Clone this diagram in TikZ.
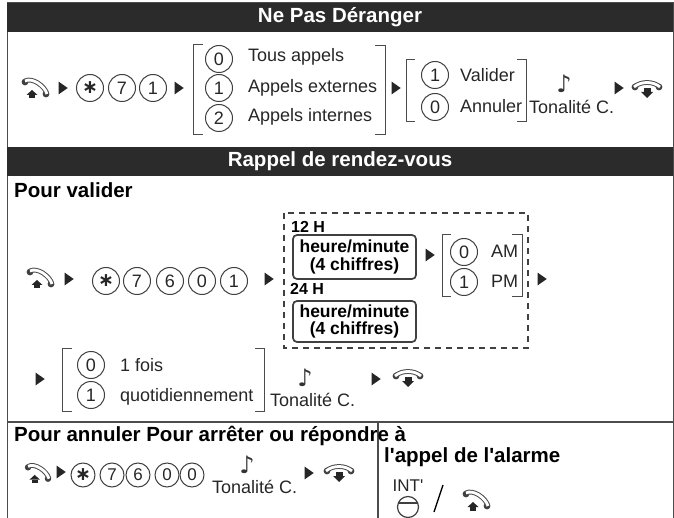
\documentclass[tikz,border=0pt]{standalone}
\usepackage{fontspec}
\setmainfont{Liberation Sans}[Ligatures=TeXOff]
\newfontfamily\symfont{DejaVu Sans}
\usetikzlibrary{positioning,shapes.geometric}

\newcommand{\sz}[1]{\fontsize{#1}{#1}\selectfont}

\tikzset{
  pics/offhook/.style={code={
    \fill[black!75] (-11,-6) circle (3.4);
    \fill[black!75] (10,6) circle (3.4);
    \draw[line width=1pt, double, double distance=2.8pt, black!70] (-11,-7) .. controls (-4,-11) and (9,-2) .. (11,6);
    \fill[black!85] (-4,2) -- (-9.5,7) -- (1.5,7) -- cycle;
    \fill[black!85] (-7,7) rectangle (-1,10.5);
  }},
  pics/onhook/.style={code={
    \fill[black!75] (-12,-2) circle (3.4);
    \fill[black!75] (12,-2) circle (3.4);
    \draw[line width=1pt, double, double distance=2.8pt, black!70] (-13,-2) .. controls (-6,-8) and (6,-8) .. (13,-2);
    \fill[black!85] (-3.5,-1) rectangle (3.5,3);
    \fill[black!85] (-6,3) -- (6,3) -- (0,9) -- cycle;
  }}
}

\begin{document}
\begin{tikzpicture}[
  x=1pt, y=-1pt,
  head/.style={fill=black!83, minimum width=666pt, minimum height=29pt, inner sep=0pt, text=white, font=\sz{20.5}\bfseries},
  key/.style={circle, draw=black!75, line width=1pt, minimum size=27pt, inner sep=0pt, font=\sz{18}, text=black!85},
  keys/.style={key, minimum size=24pt, font=\sz{17}},
  star/.style={font=\sz{19}\symfont\bfseries},
  go/.style={isosceles triangle, isosceles triangle apex angle=70, fill=black!85, inner sep=0pt, minimum height=9pt, minimum width=10pt},
  lbl/.style={anchor=west, inner sep=0pt, font=\sz{18}, text=black!85},
  tit/.style={anchor=west, inner sep=0pt, font=\sz{20.5}\bfseries},
  note/.style={inner sep=0pt, font=\sz{24}\symfont\itshape, text=black!80},
  brk/.style={draw=black!70, line width=1pt},
  hourbox/.style={draw=black!75, line width=1.7pt, rounded corners=4pt, minimum width=123pt, align=center, inner sep=0pt, font=\fontsize{17.5}{17.5}\selectfont\bfseries}
]
\useasboundingbox (0,0) rectangle (674,518);

% Frame
\draw[black!70, line width=1pt] (7,3) rectangle (673,518);

% Top: Ne Pas Deranger
\node[head] (headA) at (340,17.5) {Ne Pas Déranger};
\pic at (36,88) {offhook};
\node[go] (goA) at (62,88) {};
\node[key, star] (aStar) at (90,88) {∗};
\node[key] (aSeven) at (122,88) {7};
\node[key] (aOne) at (153,88) {1};
\node[go] (goB) at (178,88) {};

\draw[brk] (203,45) -- (193,45) -- (193,135) -- (203,135);
\node[key] (aKeyZero) at (219,59) {0};
\node[key] (aKeyOne) at (219,88) {1};
\node[key] (aKeyTwo) at (219,118) {2};
\node[lbl] (tous) at (248,57) {Tous appels};
\node[lbl] (ext) at (248,88) {Appels externes};
\node[lbl] (int) at (248,117) {Appels internes};
\draw[brk] (375,46) -- (385,46) -- (385,135) -- (375,135);

\node[go] (goC) at (395,88) {};
\draw[brk] (415,60) -- (406,60) -- (406,122) -- (415,122);
\node[key] (aVal) at (435,75) {1};
\node[key] (aAnn) at (435,107) {0};
\node[lbl] (valider) at (460,75) {Valider};
\node[lbl] (annuler) at (460,106) {Annuler};
\draw[brk] (517,60) -- (526,60) -- (526,122) -- (517,122);
\node[note] (noteA) at (564,84) {♪};
\node[lbl] (tonA) at (529,107) {Tonalité C.};
\node[go] (goD) at (618,88) {};
\pic at (647,89) {onhook};

% Middle: Rappel de rendez-vous
\node[head] (headB) at (340,161.5) {Rappel de rendez-vous};
\node[tit] (valid) at (14,190) {Pour valider};
\pic at (41,278) {offhook};
\node[go] (goE) at (68,279) {};
\node[key, star] (bStar) at (106,281) {∗};
\node[key] (bSeven) at (137,281) {7};
\node[key] (bSix) at (170,281) {6};
\node[key] (bZero) at (202,281) {0};
\node[key] (bOne) at (234,281) {1};
\node[go] (goF) at (268,279) {};

% Dashed choice of hour format
\draw[black!75, line width=1.3pt, dash pattern=on 6pt off 5pt] (284,213) rectangle (528,348);
\node[anchor=west, inner sep=0pt, font=\sz{16}\bfseries] (twelve) at (291,227) {12 H};
\node[hourbox, minimum height=44pt] (hourA) at (354.5,257) {heure/minute\\(4 chiffres)};
\node[anchor=west, inner sep=0pt, font=\sz{16}\bfseries] (twenty) at (290,289) {24 H};
\node[hourbox, minimum height=41pt] (hourB) at (354.5,321.5) {heure/minute\\(4 chiffres)};
\node[go] (goG) at (429,255) {};
\draw[brk] (451,235) -- (442,235) -- (442,297) -- (451,297);
\node[key] (bAm) at (464,252) {0};
\node[key] (bPm) at (464,282) {1};
\node[lbl] (am) at (491,251) {AM};
\node[lbl] (pm) at (491,281) {PM};
\draw[brk] (512,235) -- (522,235) -- (522,297) -- (512,297);
\node[go] (goH) at (541,279) {};

% Repeat choice
\node[go] (goI) at (39,379) {};
\draw[brk] (72,348) -- (62,348) -- (62,411) -- (72,411);
\node[key] (bOnce) at (91,365) {0};
\node[key] (bDaily) at (91,395) {1};
\node[lbl] (fois) at (120,365) {1 fois};
\node[lbl] (quot) at (120,397) {quotidiennement};
\draw[brk] (255,348) -- (264,348) -- (264,411) -- (255,411);
\node[note] (noteB) at (305,378) {♪};
\node[lbl] (tonB) at (270,400) {Tonalité C.};
\node[go] (goJ) at (375,379) {};
\pic at (408,378) {onhook};

% Bottom: cancel and answer
\draw[black!70, line width=1.2pt] (7,422) -- (673,422);
\draw[black!70, line width=1.2pt] (378,422) -- (378,518);
\node[tit] (annul) at (14,436) {Pour annuler Pour arrêter ou répondre à};
\node[tit] (alarm) at (384,457) {l'appel de l'alarme};
\pic[scale=.95] at (38.5,473) {offhook};
\node[go] (goK) at (60,472) {};
\node[keys, star] (cStar) at (83,475) {∗};
\node[keys] (cSeven) at (112,475) {7};
\node[keys] (cSix) at (138,475) {6};
\node[keys] (cZero) at (167,475) {0};
\node[keys] (cZeroB) at (192,475) {0};
\node[note] (noteC) at (247,465) {♪};
\node[lbl] (tonC) at (212,487) {Tonalité C.};
\node[go] (goL) at (308,473) {};
\pic at (339,473) {onhook};

\node[inner sep=0pt, font=\sz{17}, text=black!85] (intK) at (408,486) {INT'};
\draw[black!75, line width=1.2pt] (408,507) circle (10.5);
\draw[black!75, line width=1.2pt] (398.5,503) -- (417.5,503);
\draw[black, line width=1.4pt] (434,512) -- (443,485);
\pic at (477,500) {offhook};

\end{tikzpicture}
\end{document}
